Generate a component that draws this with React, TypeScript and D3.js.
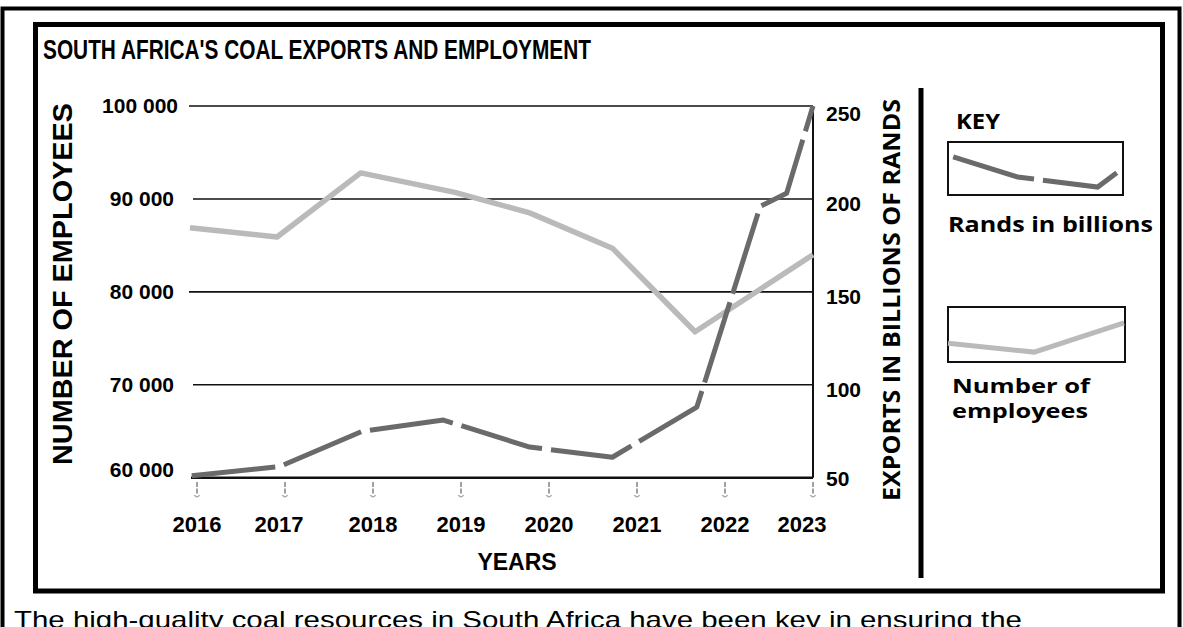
import { useEffect, useRef } from "react"
import * as d3 from "d3"

// chart values
const years = [2016, 2017, 2018, 2019, 2020, 2021, 2022, 2023]
const employeeTicks = [60000, 70000, 80000, 90000, 100000]
const randTicks = [50, 100, 150, 200, 250]

// vertices of the employees line (x in years, as drawn)
const employeesAt = [2015.92, 2016.91, 2017.86, 2018.93, 2019.78, 2020.72, 2021.66, 2023]
const employees = [86900, 85900, 92800, 90700, 88500, 84700, 75700, 84000]

// vertices of the exports line (billions of rands)
const randsAt = [2015.94, 2016.94, 2017.88, 2018.8, 2019.78, 2020.72, 2021.68, 2022.4, 2022.7, 2023]
const rands = [51, 56, 75, 81, 66.5, 61, 88, 196, 203, 250]

// little sample strokes inside the key boxes (0..1 in box units, y from the top)
const keyRandsX = [0.03, 0.4, 0.86, 0.97]
const keyRandsY = [0.28, 0.66, 0.85, 0.58]
const keyStaffX = [0.0, 0.49, 1.0]
const keyStaffY = [0.66, 0.82, 0.29]

const W = 1183
const H = 627
const ARIAL = "'Liberation Sans', Arial, sans-serif"
const OPEN = "'Open Sans', 'DejaVu Sans', sans-serif"
const LIGHT = "#bababa"
const DARK = "#6a6a6a"

export default function App() {
  const svgRef = useRef<SVGSVGElement | null>(null)

  useEffect(() => {
    const svg = d3.select(svgRef.current)
    svg.selectAll("*").remove()
    svg.attr("width", W).attr("height", H)

    svg.append("rect").attr("width", W).attr("height", H).attr("fill", "#fff")

    // frames
    svg.append("path")
      .attr("d", `M2.5,${H + 10} V8.5 H1179.5 V${H + 10}`)
      .attr("fill", "none")
      .attr("stroke", "#000")
      .attr("stroke-width", 4)
    svg.append("rect")
      .attr("x", 35.5)
      .attr("y", 24.5)
      .attr("width", 1127)
      .attr("height", 566.5)
      .attr("fill", "none")
      .attr("stroke", "#000")
      .attr("stroke-width", 5)

    svg.append("text")
      .attr("x", 43)
      .attr("y", 59)
      .attr("font-family", ARIAL)
      .attr("font-weight", 700)
      .attr("font-size", 27)
      .attr("textLength", 548)
      .attr("lengthAdjust", "spacingAndGlyphs")
      .text("SOUTH AFRICA'S COAL EXPORTS AND EMPLOYMENT")

    svg.append("text")
      .attr("x", 14)
      .attr("y", 628)
      .attr("font-family", ARIAL)
      .attr("font-size", 24)
      .attr("textLength", 1008)
      .attr("lengthAdjust", "spacingAndGlyphs")
      .text("The high-quality coal resources in South Africa have been key in ensuring the")

    // scales
    const x = d3.scaleLinear().domain([2016, 2023]).range([197, 813])
    const yLeft = d3.scaleLinear().domain([60000, 100000]).range([477.7, 106])
    const yRight = d3.scaleLinear().domain([50, 250]).range([477.7, 106])

    const g = svg.append("g")

    // gridlines
    g.selectAll(".grid")
      .data(employeeTicks.slice(1))
      .enter()
      .append("line")
      .attr("x1", (d, i) => (i % 2 === 0 ? 193 : 189))
      .attr("x2", x(2023))
      .attr("y1", (d) => yLeft(d))
      .attr("y2", (d) => yLeft(d))
      .attr("stroke", "#111")
      .attr("stroke-width", 1.6)

    // x axis line and right axis
    g.append("line")
      .attr("x1", 191)
      .attr("x2", x(2023))
      .attr("y1", yLeft(60000))
      .attr("y2", yLeft(60000))
      .attr("stroke", "#111")
      .attr("stroke-width", 2.6)
    g.append("line")
      .attr("x1", x(2023))
      .attr("x2", x(2023))
      .attr("y1", yRight(250))
      .attr("y2", yRight(50))
      .attr("stroke", "#111")
      .attr("stroke-width", 2)

    // dotted year ticks
    const ticks = g.selectAll(".tick").data(years).enter().append("g")
    ticks.append("line")
      .attr("x1", (d) => x(d))
      .attr("x2", (d) => x(d))
      .attr("y1", 482)
      .attr("y2", 495)
      .attr("stroke", "#8a8a8a")
      .attr("stroke-width", 1.6)
      .attr("stroke-dasharray", "5,1.5")
    ticks.append("path")
      .attr("d", (d) => `M${x(d) - 2.5},495 q2.5,4 5,0`)
      .attr("fill", "none")
      .attr("stroke", "#9a9a9a")
      .attr("stroke-width", 1.2)

    // tick labels
    g.selectAll(".yl")
      .data(employeeTicks)
      .enter()
      .append("text")
      .attr("x", (d) => (d === 100000 ? 178 : 174))
      .attr("y", (d) => yLeft(d) + (d === 60000 ? -1 : 7))
      .attr("text-anchor", "end")
      .attr("font-family", ARIAL)
      .attr("font-weight", 700)
      .attr("font-size", 21)
      .text((d) => d3.format(",")(d).replace(",", " "))

    g.selectAll(".yr")
      .data(randTicks)
      .enter()
      .append("text")
      .attr("x", 826)
      .attr("y", (d) => yRight(d) + (d === 250 ? 15 : d === 50 ? 8 : 12))
      .attr("font-family", ARIAL)
      .attr("font-weight", 700)
      .attr("font-size", 21)
      .text((d) => d)

    g.selectAll(".xl")
      .data(years)
      .enter()
      .append("text")
      .attr("x", (d) => (d === 2023 ? x(d) - 11 : d === 2017 ? x(d) - 6 : x(d)))
      .attr("y", 532)
      .attr("text-anchor", "middle")
      .attr("font-family", ARIAL)
      .attr("font-weight", 700)
      .attr("font-size", 22)
      .text((d) => d)

    // axis titles
    svg.append("text")
      .attr("x", 517)
      .attr("y", 570)
      .attr("text-anchor", "middle")
      .attr("font-family", ARIAL)
      .attr("font-weight", 700)
      .attr("font-size", 23)
      .text("YEARS")

    svg.append("text")
      .attr("transform", "translate(72,284) rotate(-90)")
      .attr("text-anchor", "middle")
      .attr("font-family", ARIAL)
      .attr("font-weight", 700)
      .attr("font-size", 27)
      .attr("textLength", 362)
      .attr("lengthAdjust", "spacingAndGlyphs")
      .text("NUMBER OF EMPLOYEES")

    svg.append("text")
      .attr("transform", "translate(900,300) rotate(-90)")
      .attr("text-anchor", "middle")
      .attr("font-family", OPEN)
      .attr("font-weight", 700)
      .attr("font-size", 24)
      .attr("textLength", 402)
      .attr("lengthAdjust", "spacingAndGlyphs")
      .text("EXPORTS IN BILLIONS OF RANDS")

    // lines
    const staffLine = d3
      .line<number>()
      .x((d, i) => x(employeesAt[i]))
      .y((d) => yLeft(d))
    g.append("path")
      .datum(employees)
      .attr("d", staffLine)
      .attr("fill", "none")
      .attr("stroke", LIGHT)
      .attr("stroke-width", 5.5)
      .attr("stroke-linejoin", "round")

    const randLine = d3
      .line<number>()
      .x((d, i) => x(randsAt[i]))
      .y((d) => yRight(d))
    g.append("path")
      .datum(rands)
      .attr("d", randLine)
      .attr("fill", "none")
      .attr("stroke", DARK)
      .attr("stroke-width", 5)
      .attr("stroke-dasharray", "84,9")
      .attr("stroke-linejoin", "round")

    // separator
    svg.append("line")
      .attr("x1", 921)
      .attr("x2", 921)
      .attr("y1", 88)
      .attr("y2", 578)
      .attr("stroke", "#000")
      .attr("stroke-width", 5)

    // key
    const key = svg.append("g")
    key.append("text")
      .attr("x", 956)
      .attr("y", 129)
      .attr("font-family", OPEN)
      .attr("font-weight", 700)
      .attr("font-size", 21)
      .attr("textLength", 44)
      .attr("lengthAdjust", "spacingAndGlyphs")
      .text("KEY")

    const kx1 = d3.scaleLinear().domain([0, 1]).range([948, 1122])
    const ky1 = d3.scaleLinear().domain([0, 1]).range([142, 195])
    key.append("rect")
      .attr("x", 948)
      .attr("y", 142)
      .attr("width", 175)
      .attr("height", 53)
      .attr("fill", "none")
      .attr("stroke", "#111")
      .attr("stroke-width", 2)
    key.append("path")
      .datum(keyRandsX)
      .attr("d", d3.line<number>().x((d) => kx1(d)).y((d, i) => ky1(keyRandsY[i])))
      .attr("fill", "none")
      .attr("stroke", DARK)
      .attr("stroke-width", 5)
      .attr("stroke-dasharray", "84,9")
    key.append("text")
      .attr("x", 948)
      .attr("y", 232)
      .attr("font-family", OPEN)
      .attr("font-weight", 700)
      .attr("font-size", 21)
      .attr("textLength", 205)
      .attr("lengthAdjust", "spacingAndGlyphs")
      .text("Rands in billions")

    const kx2 = d3.scaleLinear().domain([0, 1]).range([948, 1124])
    const ky2 = d3.scaleLinear().domain([0, 1]).range([307, 362])
    key.append("rect")
      .attr("x", 948)
      .attr("y", 307)
      .attr("width", 177)
      .attr("height", 55)
      .attr("fill", "none")
      .attr("stroke", "#111")
      .attr("stroke-width", 2)
    key.append("path")
      .datum(keyStaffX)
      .attr("d", d3.line<number>().x((d) => kx2(d)).y((d, i) => ky2(keyStaffY[i])))
      .attr("fill", "none")
      .attr("stroke", LIGHT)
      .attr("stroke-width", 5)
    key.append("text")
      .attr("x", 952)
      .attr("y", 393)
      .attr("font-family", OPEN)
      .attr("font-weight", 700)
      .attr("font-size", 20)
      .attr("textLength", 138)
      .attr("lengthAdjust", "spacingAndGlyphs")
      .text("Number of")
    key.append("text")
      .attr("x", 952)
      .attr("y", 418)
      .attr("font-family", OPEN)
      .attr("font-weight", 700)
      .attr("font-size", 20)
      .attr("textLength", 136)
      .attr("lengthAdjust", "spacingAndGlyphs")
      .text("employees")
  }, [])

  return (
    <svg
      ref={svgRef}
      style={{ position: "absolute", left: 0, top: 0, display: "block" }}
    ></svg>
  )
}
